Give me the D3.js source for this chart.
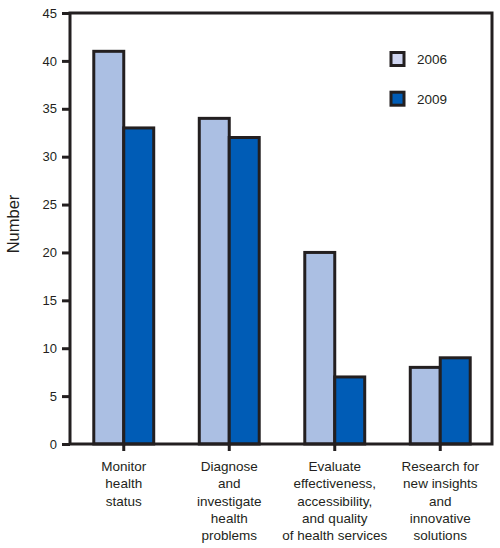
<!DOCTYPE html>
<html>
<head>
<meta charset="utf-8">
<script src="https://cdn.jsdelivr.net/npm/d3@7"></script>
<style>
  body { margin: 0; background: #fff; }
  text { font-family: "Liberation Sans", Arial, Helvetica, sans-serif; fill: #231f20; }
</style>
</head>
<body>
<svg id="chart" width="500" height="548"></svg>
<script>
// values
var categories = [
  ["Monitor", "health", "status"],
  ["Diagnose", "and", "investigate", "health", "problems"],
  ["Evaluate", "effectiveness,", "accessibility,", "and quality", "of health services"],
  ["Research for", "new insights", "and", "innovative", "solutions"]
];
var years = ["2006", "2009"];
var values2006 = [41, 34, 20, 8];
var values2009 = [33, 32, 7, 9];
var yTicks = [0, 5, 10, 15, 20, 25, 30, 35, 40, 45];

var barColor = { "2006": "#abbfe3", "2009": "#005cb6" };
var legendColor = { "2006": "#cfd5f0", "2009": "#005cb6" };
var ink = "#231f20";

var margin = {top: 13, right: 8, bottom: 104, left: 70},
    width = 500 - margin.left - margin.right,
    height = 548 - margin.top - margin.bottom;

var svg = d3.select("#chart");
var g = svg.append("g").attr("transform", "translate(" + margin.left + "," + margin.top + ")");

var x0 = d3.scaleBand()
  .domain(d3.range(categories.length))
  .range([1, width + 1]);

var x1 = d3.scaleBand()
  .domain(years)
  .range([0, x0.bandwidth()])
  .paddingOuter(0.76);

var y = d3.scaleLinear()
  .domain([0, 45])
  .range([height, 0]);

var rows = [];
categories.forEach(function(c, i) {
  rows.push({i: i, year: "2006", value: values2006[i]});
  rows.push({i: i, year: "2009", value: values2009[i]});
});

g.selectAll(".bar").data(rows)
  .enter().append("rect")
  .attr("class", "bar")
  .attr("x", function(d) { return x0(d.i) + x1(d.year); })
  .attr("width", x1.bandwidth())
  .attr("y", function(d) { return y(d.value); })
  .attr("height", function(d) { return y(0) - y(d.value); })
  .attr("fill", function(d) { return barColor[d.year]; })
  .attr("stroke", ink)
  .attr("stroke-width", 3);

// frame
g.append("rect")
  .attr("x", 0).attr("y", 0)
  .attr("width", width).attr("height", height)
  .attr("fill", "none")
  .attr("stroke", ink)
  .attr("stroke-width", 3);

// y axis
var yAxis = g.append("g")
  .call(d3.axisLeft(y).tickValues(yTicks).tickSize(8).tickPadding(5));
yAxis.select(".domain").remove();
yAxis.selectAll(".tick line").attr("stroke", ink).attr("stroke-width", 3);
yAxis.selectAll(".tick text")
  .attr("fill", ink)
  .style("font-size", "13px")
  .style("font-family", "'Liberation Sans', Arial, sans-serif");

// x axis ticks
var xAxis = g.append("g")
  .attr("transform", "translate(0," + height + ")")
  .call(d3.axisBottom(x0).tickSize(7).tickFormat(""));
xAxis.select(".domain").remove();
xAxis.selectAll(".tick line").attr("stroke", ink).attr("stroke-width", 3);

// category labels, several lines each
var labels = g.selectAll(".cat").data(categories)
  .enter().append("text")
  .attr("class", "cat")
  .attr("text-anchor", "middle")
  .style("font-size", "13.5px")
  .attr("transform", function(d, i) {
    return "translate(" + (x0(i) + x0.bandwidth() / 2) + "," + (height + 27) + ")";
  });
labels.selectAll("tspan").data(function(d) { return d; })
  .enter().append("tspan")
  .attr("x", 0)
  .attr("y", function(d, j) { return j * 17.3; })
  .text(function(d) { return d; });

// y title
svg.append("text")
  .attr("text-anchor", "middle")
  .attr("transform", "translate(19," + 224 + ") rotate(-90)")
  .style("font-size", "16.5px")
  .text("Number");

// legend
var legend = g.selectAll(".legend").data(years)
  .enter().append("g")
  .attr("class", "legend")
  .attr("transform", function(d, i) { return "translate(321," + (39.5 + i * 39.7) + ")"; });
legend.append("rect")
  .attr("width", 13).attr("height", 13)
  .attr("fill", function(d) { return legendColor[d]; })
  .attr("stroke", ink)
  .attr("stroke-width", 3);
legend.append("text")
  .attr("x", 26)
  .attr("y", 11.5)
  .style("font-size", "13.5px")
  .text(function(d) { return d; });
</script>
</body>
</html>
